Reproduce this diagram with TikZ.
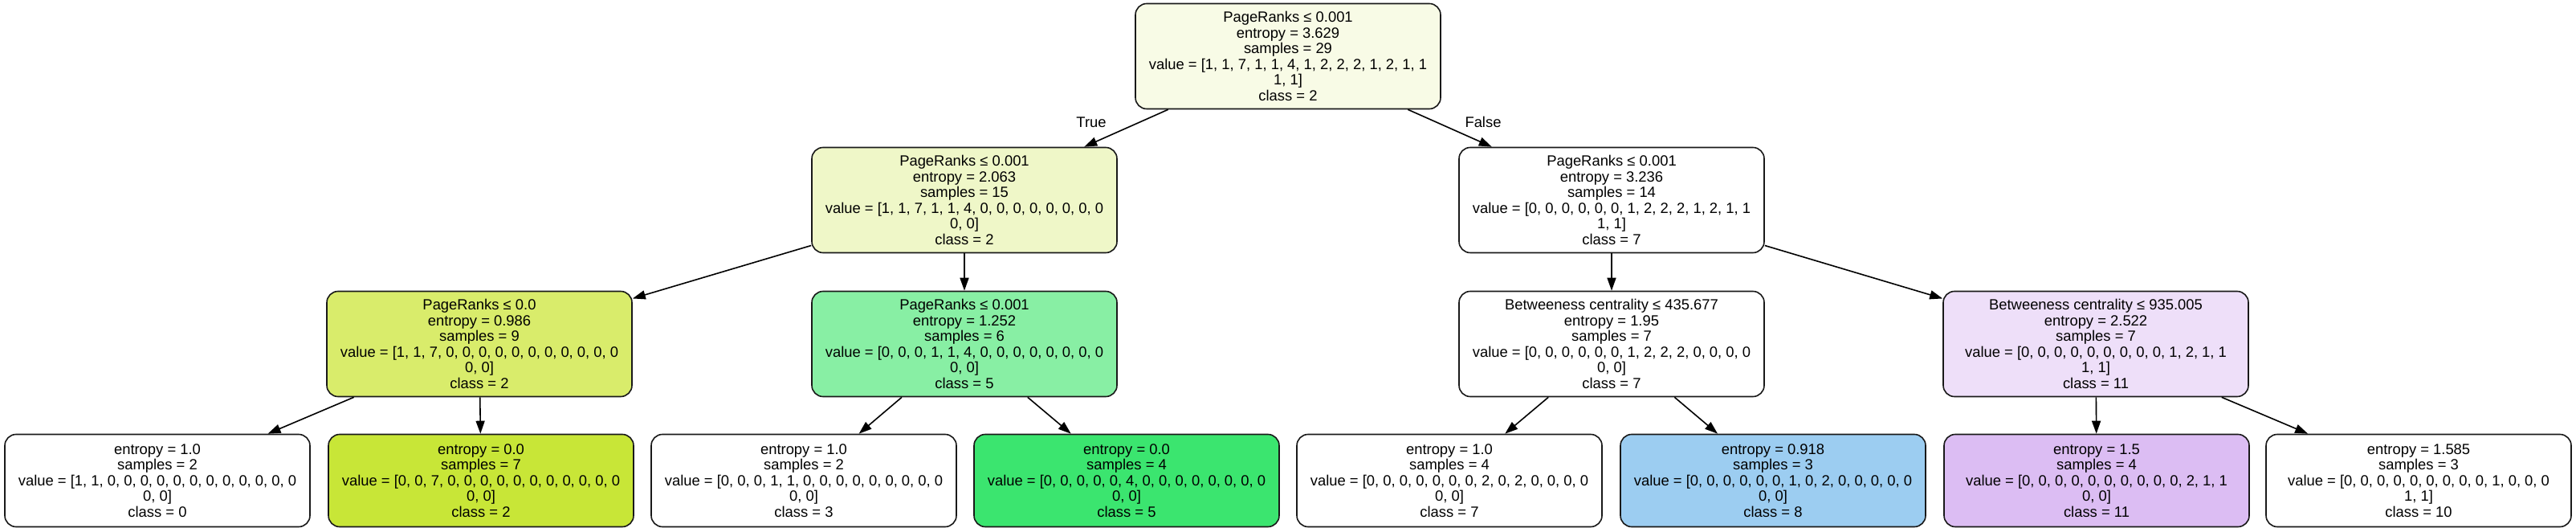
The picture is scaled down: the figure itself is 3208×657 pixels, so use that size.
\documentclass[tikz,border=0pt]{standalone}
\usepackage{fontspec}
\setmainfont{Liberation Sans}
\usetikzlibrary{arrows.meta}
\definecolor{cRoot}{HTML}{F8FBE6}
\definecolor{cAl}{HTML}{EFF7C8}
\definecolor{cBl}{HTML}{D9EC6B}
\definecolor{cLeafTwo}{HTML}{C8E637}
\definecolor{cBg}{HTML}{88EFA4}
\definecolor{cLeafFive}{HTML}{3BE56F}
\definecolor{cLeafEight}{HTML}{9CCDF1}
\definecolor{cBp}{HTML}{EEDFF9}
\definecolor{cLeafEleven}{HTML}{DCBDF3}
\tikzset{
  tn/.style={draw=black!90, line width=0.8pt, rectangle, rounded corners=7pt,
    minimum width=190pt, minimum height=65.5pt, inner sep=0pt, align=center,
    font=\fontsize{9.2}{9.75}\selectfont},
  lf/.style={tn, minimum height=57.5pt},
  edge/.style={draw=black, line width=0.8pt, -{Triangle[length=8pt,width=5.5pt]}},
  lbl/.style={font=\fontsize{9.2}{9.75}\selectfont, inner sep=0pt}
}
\begin{document}
\begin{tikzpicture}[x=0.5pt,y=-0.5pt]
\useasboundingbox (0,0) rectangle (3208,657);
\fill[white] (0,0) rectangle (3208,657);
% level 0
\node[tn, fill=cRoot] (r) at (1604,70) {PageRanks ≤ 0.001\\entropy = 3.629\\samples = 29\\value = [1, 1, 7, 1, 1, 4, 1, 2, 2, 2, 1, 2, 1, 1\\1, 1]\\class = 2};
% level 1
\node[tn, fill=cAl] (a) at (1201,249) {PageRanks ≤ 0.001\\entropy = 2.063\\samples = 15\\value = [1, 1, 7, 1, 1, 4, 0, 0, 0, 0, 0, 0, 0, 0\\0, 0]\\class = 2};
\node[tn, fill=white] (b) at (2007,249) {PageRanks ≤ 0.001\\entropy = 3.236\\samples = 14\\value = [0, 0, 0, 0, 0, 0, 1, 2, 2, 2, 1, 2, 1, 1\\1, 1]\\class = 7};
% level 2
\node[tn, fill=cBl] (c) at (597,428) {PageRanks ≤ 0.0\\entropy = 0.986\\samples = 9\\value = [1, 1, 7, 0, 0, 0, 0, 0, 0, 0, 0, 0, 0, 0\\0, 0]\\class = 2};
\node[tn, fill=cBg] (d) at (1201,428) {PageRanks ≤ 0.001\\entropy = 1.252\\samples = 6\\value = [0, 0, 0, 1, 1, 4, 0, 0, 0, 0, 0, 0, 0, 0\\0, 0]\\class = 5};
\node[tn, fill=white] (e) at (2007,428) {Betweeness centrality ≤ 435.677\\entropy = 1.95\\samples = 7\\value = [0, 0, 0, 0, 0, 0, 1, 2, 2, 2, 0, 0, 0, 0\\0, 0]\\class = 7};
\node[tn, fill=cBp] (f) at (2610,428) {Betweeness centrality ≤ 935.005\\entropy = 2.522\\samples = 7\\value = [0, 0, 0, 0, 0, 0, 0, 0, 0, 1, 2, 1, 1\\1, 1]\\class = 11};
% level 3
\node[lf, fill=white] (l1) at (196,598) {entropy = 1.0\\samples = 2\\value = [1, 1, 0, 0, 0, 0, 0, 0, 0, 0, 0, 0, 0, 0\\0, 0]\\class = 0};
\node[lf, fill=cLeafTwo] (l2) at (599,598) {entropy = 0.0\\samples = 7\\value = [0, 0, 7, 0, 0, 0, 0, 0, 0, 0, 0, 0, 0, 0\\0, 0]\\class = 2};
\node[lf, fill=white] (l3) at (1001,598) {entropy = 1.0\\samples = 2\\value = [0, 0, 0, 1, 1, 0, 0, 0, 0, 0, 0, 0, 0, 0\\0, 0]\\class = 3};
\node[lf, fill=cLeafFive] (l4) at (1403,598) {entropy = 0.0\\samples = 4\\value = [0, 0, 0, 0, 0, 4, 0, 0, 0, 0, 0, 0, 0, 0\\0, 0]\\class = 5};
\node[lf, fill=white] (l5) at (1805,598) {entropy = 1.0\\samples = 4\\value = [0, 0, 0, 0, 0, 0, 0, 2, 0, 2, 0, 0, 0, 0\\0, 0]\\class = 7};
\node[lf, fill=cLeafEight] (l6) at (2208,598) {entropy = 0.918\\samples = 3\\value = [0, 0, 0, 0, 0, 0, 1, 0, 2, 0, 0, 0, 0, 0\\0, 0]\\class = 8};
\node[lf, fill=cLeafEleven] (l7) at (2611,598) {entropy = 1.5\\samples = 4\\value = [0, 0, 0, 0, 0, 0, 0, 0, 0, 0, 2, 1, 1\\0, 0]\\class = 11};
\node[lf, fill=white] (l8) at (3012,598) {entropy = 1.585\\samples = 3\\value = [0, 0, 0, 0, 0, 0, 0, 0, 0, 1, 0, 0, 0\\1, 1]\\class = 10};
% edges
\draw[edge] (r) -- (a);
\draw[edge] (r) -- (b);
\draw[edge] (a) -- (c);
\draw[edge] (a) -- (d);
\draw[edge] (b) -- (e);
\draw[edge] (b) -- (f);
\draw[edge] (c) -- (l1);
\draw[edge] (c) -- (l2);
\draw[edge] (d) -- (l3);
\draw[edge] (d) -- (l4);
\draw[edge] (e) -- (l5);
\draw[edge] (e) -- (l6);
\draw[edge] (f) -- (l7);
\draw[edge] (f) -- (l8);
% labels
\node[lbl] (tl) at (1359,152) {True};
\node[lbl] (fl) at (1847,152) {False};
\end{tikzpicture}
\end{document}
